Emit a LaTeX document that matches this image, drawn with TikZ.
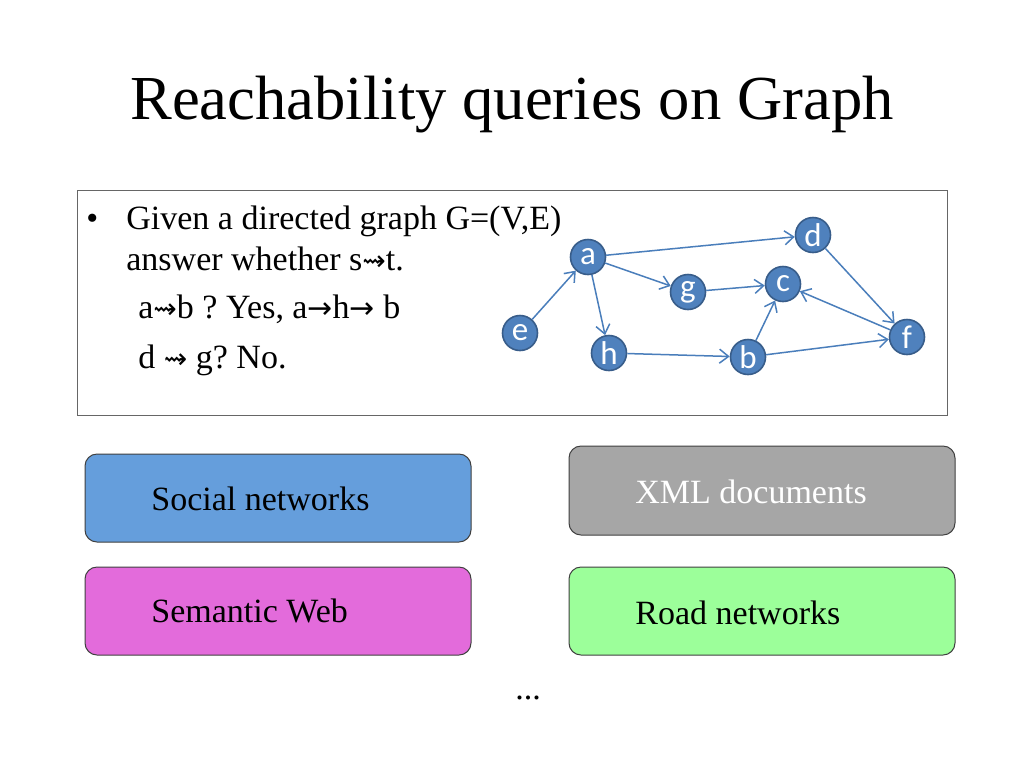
\documentclass[tikz,border=0pt]{standalone}
\usepackage{fontspec}
\setmainfont{Liberation Serif}
\newfontfamily\calib{Carlito}
\newfontfamily\djv{DejaVu Sans}
\usetikzlibrary{arrows.meta}
\definecolor{nodefill}{HTML}{4F81BD}
\definecolor{nodeline}{HTML}{385D8A}
\definecolor{edgecol}{HTML}{4A7EBB}
\definecolor{socialc}{HTML}{659EDC}
\definecolor{xmlc}{HTML}{A6A6A6}
\definecolor{semc}{HTML}{E36BDB}
\definecolor{roadc}{HTML}{9CFF9A}
\newcommand\sqarr{{\djv\fontsize{14}{14}\selectfont ⇝}}
\newcommand\rarr{{\djv\fontsize{15}{15}\selectfont →}}
\frenchspacing
\tikzset{
  gnode/.style={circle, fill=nodefill, draw=nodeline, line width=0.8pt, minimum size=17.5pt, inner sep=0pt, text=white, font=\calib\fontsize{16.5}{16.5}\selectfont},
  edge/.style={draw=edgecol, line width=0.75pt, -{Straight Barb[length=4.5pt,width=7pt]}},
  txt/.style={anchor=base west, inner sep=0pt, font=\fontsize{17}{20}\selectfont},
  appbox/.style={draw=black!75, line width=0.5pt, rounded corners=6pt}
}
\begin{document}
\begin{tikzpicture}[x=0.5pt,y=-0.5pt]
\useasboundingbox[fill=white] (0,0) rectangle (1024,768);
% title
\node[anchor=base west, inner sep=0pt, font=\fontsize{31.3}{36}\selectfont] (title) at (130,119) {Reachability queries on Graph};
% outer box
\draw[draw=black!60, line width=0.5pt] (77,190) rectangle (947,415);
\node[anchor=base west, inner sep=0pt, font=\fontsize{17}{20}\selectfont] (bul) at (86,229) {•};
\node[txt] (l1) at (126,229) {Given a directed graph G=(V,E)};
\node[txt] (l2) at (126,270) {answer whether s\sqarr t.};
\node[txt] (l3) at (138,318) {a\sqarr b ? Yes, a\rarr h\rarr\ b};
\node[txt] (l4) at (138,368) {d \sqarr\ g? No.};
% graph
\node[gnode] (d) at (813,235) {d};
\node[gnode] (a) at (588,257) {a};
\node[gnode] (g) at (688,292) {g};
\node[gnode] (c) at (783,284) {c};
\node[gnode] (e) at (520,333) {e};
\node[gnode] (h) at (609,353) {h};
\node[gnode] (b) at (748,357) {b};
\node[gnode] (f) at (907,337) {f};
\draw[edge] (a) -- (d);
\draw[edge] (a) -- (g);
\draw[edge] (a) -- (h);
\draw[edge] (e) -- (a);
\draw[edge] (g) -- (c);
\draw[edge] (b) -- (c);
\draw[edge] (f) -- (c);
\draw[edge] (d) -- (f);
\draw[edge] (h) -- (b);
\draw[edge] (b) -- (f);
% application boxes
\draw[appbox, fill=socialc] (85,454) rectangle (471,542);
\node[txt] (soc) at (151,510) {Social networks};
\draw[appbox, fill=xmlc] (569,446) rectangle (955,535);
\node[txt, text=white] (xml) at (635,503) {XML documents};
\draw[appbox, fill=semc] (85,567) rectangle (471,655);
\node[txt] (sem) at (151,622) {Semantic Web};
\draw[appbox, fill=roadc] (569,567) rectangle (955,655);
\node[txt] (road) at (635,624) {Road networks};
\node[txt] (dots) at (515,699) {...};
\end{tikzpicture}
\end{document}
